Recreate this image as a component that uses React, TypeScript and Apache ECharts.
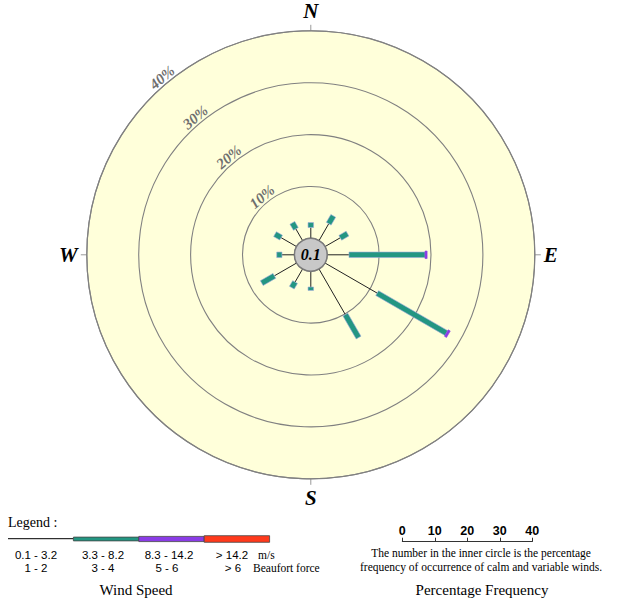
import React, { useEffect, useRef } from "react";
import * as echarts from "echarts";

// ---- data ----
const directions = [0, 30, 60, 90, 120, 150, 180, 210, 240, 270, 300, 330];
const calmPct = 0.1;
// % frequency per direction for each wind speed class
const speed1 = [2.1, 3.75, 3.4, 4.2, 11.6, 10.15, 3.05, 2.9, 4.95, 2.4, 3.45, 2.6]; // 0.1 - 3.2 m/s
const speed2 = [0.95, 1.75, 1.6, 14.65, 15.4, 5.1, 0.65, 1.25, 2.8, 1.0, 1.35, 1.35]; // 3.3 - 8.2 m/s
const speed3 = [0, 0, 0, 0.4, 0.45, 0, 0, 0, 0, 0, 0, 0]; // 8.3 - 14.2 m/s
const speed4 = [0, 0, 0, 0, 0, 0, 0, 0, 0, 0, 0, 0]; // > 14.2 m/s
const ringTicks = [10, 20, 30, 40];
const compassLabels = ["N", "E", "S", "W"];
const speedClassMs = ["0.1 - 3.2", "3.3 - 8.2", "8.3 - 14.2", "> 14.2"];
const speedClassBeaufort = ["1 - 2", "3 - 4", "5 - 6", "> 6"];

const classColors = ["#222222", "#239682", "#8A3CE6", "#FF3A1C"];
const classWidths = [1, 5.5, 7.5, 9];

export default function App() {
  const ref = useRef<HTMLDivElement>(null);

  useEffect(() => {
    if (!ref.current) return;
    const chart = echarts.init(ref.current, undefined, { renderer: "svg" });

    const classes = [speed1, speed2, speed3, speed4];
    const spokeData: number[][] = [];
    directions.forEach((dir, i) => {
      let acc = 0;
      classes.forEach((arr, c) => {
        const v = arr[i];
        if (v > 0) {
          spokeData.push([acc, dir, acc + v, c]);
          acc += v;
        }
      });
    });

    const serif = '"Liberation Serif", "Times New Roman", serif';
    const sans = '"Liberation Sans", Arial, sans-serif';
    const labelAngle = 320;
    const row1Y = 554.6;
    const row2Y = 568.1;

    const legendX0 = 8;
    const legendW = 65.4;
    const legendGraphics: any[] = [
      {
        type: "text",
        left: 8,
        top: 515,
        style: { text: "Legend :", font: `14px ${serif}`, fill: "#000" },
      },
    ];
    const msX = [36, 103, 169, 232];
    const bfX = [36, 103, 167, 233];
    classColors.forEach((col, i) => {
      const x = legendX0 + i * legendW;
      if (i === 0) {
        legendGraphics.push({
          type: "line",
          shape: { x1: x, y1: 538.7, x2: x + legendW, y2: 538.7 },
          style: { stroke: "#000", lineWidth: 1 },
        });
      } else {
        const h = [0, 3.8, 5.2, 6.6][i];
        legendGraphics.push({
          type: "rect",
          shape: { x, y: 539 - h / 2, width: legendW, height: h },
          style: { fill: col, stroke: "#444", lineWidth: 0.8 },
        });
      }
      legendGraphics.push({
        type: "text",
        x: msX[i],
        y: row1Y,
        style: {
          text: speedClassMs[i],
          font: `11.5px ${sans}`,
          lineHeight: 12,
          fill: "#000",
          align: "center",
          verticalAlign: "middle",
        },
      });
      legendGraphics.push({
        type: "text",
        x: bfX[i],
        y: row2Y,
        style: {
          text: speedClassBeaufort[i],
          font: `11.5px ${sans}`,
          lineHeight: 12,
          fill: "#000",
          align: "center",
          verticalAlign: "middle",
        },
      });
    });
    legendGraphics.push(
      {
        type: "text",
        x: 258,
        y: row1Y,
        style: { text: "m/s", font: `11.5px ${serif}`, lineHeight: 12, fill: "#000", verticalAlign: "middle" },
      },
      {
        type: "text",
        x: 253,
        y: row2Y,
        style: { text: "Beaufort force", font: `11.5px ${serif}`, lineHeight: 12, fill: "#000", verticalAlign: "middle" },
      },
      {
        type: "text",
        x: 136,
        y: 590,
        style: { text: "Wind Speed", font: `15px ${serif}`, fill: "#000", align: "center", verticalAlign: "middle" },
      },
      {
        type: "text",
        x: 481,
        y: 553,
        style: {
          text: "The number in the inner circle is the percentage",
          font: `11.5px ${serif}`,
          lineHeight: 12,
          fill: "#000",
          align: "center",
          verticalAlign: "middle",
        },
      },
      {
        type: "text",
        x: 481,
        y: 567,
        style: {
          text: "frequency of occurrence of calm and variable winds.",
          font: `11.5px ${serif}`,
          lineHeight: 12,
          fill: "#000",
          align: "center",
          verticalAlign: "middle",
        },
      },
      {
        type: "text",
        x: 482,
        y: 590,
        style: {
          text: "Percentage Frequency",
          font: `15px ${serif}`,
          fill: "#000",
          align: "center",
          verticalAlign: "middle",
        },
      }
    );

    const option: any = {
      animation: false,
      backgroundColor: "#ffffff",
      polar: { center: [310.8, 254.8], radius: [16.4, 224] },
      angleAxis: {
        type: "value",
        min: 0,
        max: 360,
        interval: 90,
        startAngle: 90,
        clockwise: true,
        axisLine: { show: true, lineStyle: { color: "#8a8a8a", width: 1.2 } },
        axisTick: { show: true, length: 6, lineStyle: { color: "#999" } },
        splitLine: { show: false },
        axisLabel: {
          show: true,
          margin: 9,
          color: "#000",
          fontFamily: serif,
          fontStyle: "italic",
          fontWeight: "bold",
          fontSize: 21,
          formatter: (v: number) => (v >= 360 ? "" : compassLabels[Math.round(v / 90)] || ""),
        },
      },
      radiusAxis: {
        type: "value",
        min: 0,
        max: 40,
        interval: 10,
        axisLine: { show: false },
        axisTick: { show: false },
        axisLabel: { show: false },
        splitLine: { show: false },
        splitArea: { show: true, areaStyle: { color: ["#FFFFDA"] } },
      },
      grid: { left: 402.3, top: 541.7, width: 130, height: 10 },
      xAxis: {
        type: "value",
        position: "top",
        min: 0,
        max: 40,
        interval: 10,
        axisLine: { show: true, onZero: false, lineStyle: { color: "#333", width: 1 } },
        axisTick: { show: true, length: 4, lineStyle: { color: "#333" } },
        splitLine: { show: false },
        axisLabel: {
          show: true,
          margin: 4,
          color: "#000",
          fontFamily: sans,
          fontWeight: "bold",
          fontSize: 12.5,
        },
      },
      yAxis: { type: "value", show: false, min: 0, max: 1 },
      graphic: legendGraphics,
      series: [
        {
          type: "line",
          xAxisIndex: 0,
          yAxisIndex: 0,
          data: [],
          silent: true,
        },
        {
          // percentage rings
          type: "custom",
          coordinateSystem: "polar",
          silent: true,
          data: ringTicks.map((t) => [t, 0]),
          renderItem: (params: any, api: any) => {
            const cs = params.coordSys;
            const v = api.value(0);
            const p = api.coord([v, 0]);
            const r = Math.hypot(p[0] - cs.cx, p[1] - cs.cy);
            return {
              type: "circle",
              shape: { cx: cs.cx, cy: cs.cy, r },
              style: { fill: "none", stroke: "#808080", lineWidth: 1.1 },
            };
          },
        },
        {
          type: "custom",
          coordinateSystem: "polar",
          silent: true,
          data: spokeData,
          renderItem: (params: any, api: any) => {
            const start = api.value(0);
            const ang = api.value(1);
            const end = api.value(2);
            const cls = api.value(3);
            const p1 = api.coord([start, ang]);
            const p2 = api.coord([end, ang]);
            if (cls === 0) {
              return {
                type: "line",
                shape: { x1: p1[0], y1: p1[1], x2: p2[0], y2: p2[1] },
                style: { stroke: classColors[0], lineWidth: 1 },
              };
            }
            const dx = p2[0] - p1[0];
            const dy = p2[1] - p1[1];
            const len = Math.hypot(dx, dy) || 1;
            const nx = -dy / len;
            const ny = dx / len;
            const h = classWidths[cls] / 2;
            return {
              type: "polygon",
              shape: {
                points: [
                  [p1[0] + nx * h, p1[1] + ny * h],
                  [p2[0] + nx * h, p2[1] + ny * h],
                  [p2[0] - nx * h, p2[1] - ny * h],
                  [p1[0] - nx * h, p1[1] - ny * h],
                ],
              },
              style: {
                fill: classColors[cls],
                stroke: cls === 1 ? "#9aa6dc" : classColors[cls],
                lineWidth: 0.6,
              },
            };
          },
        },
        {
          type: "custom",
          coordinateSystem: "polar",
          silent: true,
          data: ringTicks.map((t) => [t, labelAngle]),
          renderItem: (params: any, api: any) => {
            const v = api.value(0);
            const p = api.coord([v, labelAngle]);
            return {
              type: "text",
              x: p[0],
              y: p[1],
              rotation: ((360 - labelAngle) * Math.PI) / 180,
              style: {
                text: `${v}%`,
                font: `italic bold 15px ${serif}`,
                fill: "#6e6e6e",
                align: "center",
                verticalAlign: "bottom",
              },
            };
          },
        },
        {
          type: "custom",
          coordinateSystem: "polar",
          silent: true,
          data: [[0, 0, calmPct]],
          renderItem: (params: any, api: any) => {
            const cs = params.coordSys;
            const calm = api.value(2);
            return {
              type: "group",
              children: [
                {
                  type: "circle",
                  shape: { cx: cs.cx, cy: cs.cy, r: cs.r0 },
                  style: { fill: "#C8C8C8", stroke: "#7a7a7a", lineWidth: 1.5 },
                },
                {
                  type: "text",
                  x: cs.cx,
                  y: cs.cy,
                  style: {
                    text: String(calm),
                    font: `italic bold 16px ${serif}`,
                    fill: "#000",
                    align: "center",
                    verticalAlign: "middle",
                  },
                },
              ],
            };
          },
        },
      ],
    };

    chart.setOption(option);
    return () => chart.dispose();
  }, []);

  return (
    <div
      ref={ref}
      style={{ position: "fixed", left: 0, top: 0, width: 620, height: 600 }}
    />
  );
}
